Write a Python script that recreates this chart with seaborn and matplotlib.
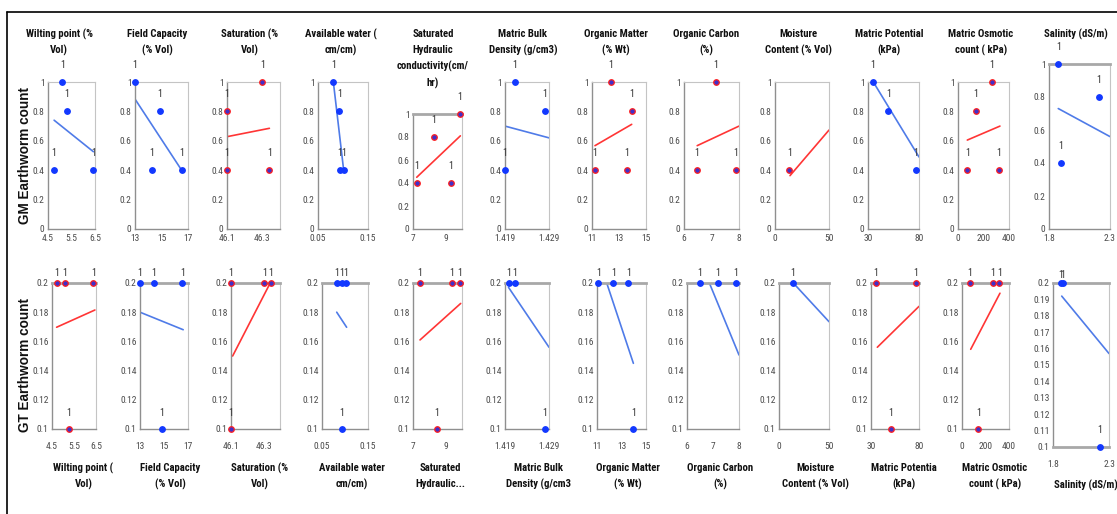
import matplotlib
matplotlib.use("Agg")
import matplotlib.pyplot as plt
import seaborn as sns
from matplotlib import font_manager
from matplotlib.font_manager import FontProperties
from matplotlib.lines import Line2D

# ---------------- data ----------------
top_titles = ["Wilting point (%\nVol)", "Field Capacity\n(% Vol)", "Saturation (%\nVol)",
              "Available water (\ncm/cm)", "Saturated\nHydraulic\nconductivity(cm/\nhr)",
              "Matric Bulk\nDensity (g/cm3)", "Organic Matter\n(% Wt)", "Organic Carbon\n(%)",
              "Moisture\nContent (% Vol)", "Matric Potential\n(kPa)", "Matric Osmotic\ncount ( kPa)",
              "Salinity (dS/m)"]
bottom_titles = ["Wilting point (\nVol)", "Field Capacity\n(% Vol)", "Saturation (%\nVol)",
                 "Available water\ncm/cm)", "Saturated\nHydraulic...", "Matric Bulk\nDensity (g/cm3",
                 "Organic Matter\n(% Wt)", "Organic Carbon\n(%)", "Moisture\nContent (% Vol)",
                 "Matric Potentia\n(kPa)", "Matric Osmotic\ncount ( kPa)", "Salinity (dS/m)"]

x_limits = [(4.5, 6.5), (13, 17), (46.1, 46.4), (0.05, 0.15), (7, 10), (1.419, 1.429),
            (11, 15), (6, 8), (0, 50), (30, 80), (0, 400), (1.8, 2.3)]
x_tick_values = [[4.5, 5.5, 6.5], [13, 15, 17], [46.1, 46.3], [0.05, 0.15], [7, 9],
                 [1.419, 1.429], [11, 13, 15], [6, 7, 8], [0, 50], [30, 80], [0, 200, 400], [1.8, 2.3]]
x_tick_labels = [["4.5", "5.5", "6.5"], ["13", "15", "17"], ["46.1", "46.3"], ["0.05", "0.15"],
                 ["7", "9"], ["1.419", "1.429"], ["11", "13", "15"], ["6", "7", "8"], ["0", "50"],
                 ["30", "80"], ["0", "200", "400"], ["1.8", "2.3"]]

gm_ylabel = "GM Earthworm count"
gt_ylabel = "GT Earthworm count"
gm_yticks = [0, 0.2, 0.4, 0.6, 0.8, 1]
gm_yticklabels = ["0", "0.2", "0.4", "0.6", "0.8", "1"]
gt_yticks = [0.1, 0.12, 0.14, 0.16, 0.18, 0.2]
gt_yticklabels = ["0.1", "0.12", "0.14", "0.16", "0.18", "0.2"]
gt_sal_yticks = [0.1, 0.11, 0.12, 0.13, 0.14, 0.15, 0.16, 0.17, 0.18, 0.19, 0.2]
gt_sal_yticklabels = ["0.1", "0.11", "0.12", "0.13", "0.14", "0.15", "0.16", "0.17", "0.18", "0.19", "0.2"]

# GM (top row) points and trendlines
gm_x = [[4.76, 5.11, 5.29, 6.43], [13.0, 14.89, 14.26, 16.52], [46.1, 46.1, 46.3, 46.34],
        [0.081, 0.093, 0.094, 0.102], [7.23, 8.29, 9.88, 9.31], [1.419, 1.4213, 1.428],
        [11.22, 12.38, 13.94, 13.57], [6.46, 7.15, 7.88], [13.2], [34.6, 49.9, 77.1],
        [73, 139, 264, 322], [1.876, 1.896, 2.21]]
gm_y = [[0.4, 1.0, 0.8, 0.4], [1.0, 0.8, 0.4, 0.4], [0.8, 0.4, 1.0, 0.4],
        [1.0, 0.8, 0.4, 0.4], [0.4, 0.8, 1.0, 0.4], [0.4, 1.0, 0.8],
        [0.4, 1.0, 0.8, 0.4], [0.4, 1.0, 0.4], [0.4], [1.0, 0.8, 0.4],
        [0.4, 0.8, 1.0, 0.4], [1.0, 0.4, 0.8]]
gm_trend_x = [[4.76, 6.43], [13.0, 16.52], [46.1, 46.34], [0.0807, 0.101], [7.23, 9.9],
              [1.419, 1.429], [11.22, 13.94], [6.48, 8.0], [13.9, 50], [35.2, 80],
              [73, 329], [1.876, 2.3]]
gm_trend_y = [[0.74, 0.526], [0.884, 0.40], [0.628, 0.685], [1.0, 0.41], [0.45, 0.81],
              [0.70, 0.62], [0.567, 0.712], [0.567, 0.70], [0.363, 0.673], [1.0, 0.49],
              [0.605, 0.70], [0.73, 0.56]]
gm_colors = ["blue", "blue", "red", "blue", "red", "blue", "red", "red", "red", "blue", "red", "blue"]

# GT (bottom row) points and trendlines
gt_x = [[4.71, 5.09, 6.38, 5.27], [13.0, 14.17, 16.53, 14.8], [46.1, 46.304, 46.345, 46.1],
        [0.082, 0.0928, 0.102, 0.0928], [7.43, 9.37, 9.88, 8.45], [1.4198, 1.4213, 1.428],
        [11.11, 12.33, 13.56, 13.97], [6.5, 7.18, 7.87], [13.7], [35.2, 76.9, 50.8],
        [68, 261, 318, 139], [1.87, 1.885, 2.22]]
gt_y = [[0.2, 0.2, 0.2, 0.1], [0.2, 0.2, 0.2, 0.1], [0.2, 0.2, 0.2, 0.1],
        [0.2, 0.2, 0.2, 0.1], [0.2, 0.2, 0.2, 0.1], [0.2, 0.2, 0.1],
        [0.2, 0.2, 0.2, 0.1], [0.2, 0.2, 0.2], [0.2], [0.2, 0.2, 0.1],
        [0.2, 0.2, 0.2, 0.1], [0.2, 0.2, 0.1]]
gt_trend_x = [[4.71, 6.45], [13.0, 16.6], [46.11, 46.34], [0.082, 0.1035], [7.43, 9.92],
              [1.4198, 1.429], [11.2, 13.97], [6.86, 8.0], [14.3, 50], [36.6, 80],
              [74, 323], [1.878, 2.3]]
gt_trend_y = [[0.1697, 0.1815], [0.18, 0.168], [0.15, 0.2], [0.18, 0.1697], [0.161, 0.186],
              [0.197, 0.156], [0.215, 0.145], [0.2, 0.1507], [0.2, 0.1735], [0.156, 0.184],
              [0.1546, 0.193], [0.192, 0.157]]
gt_colors = ["red", "blue", "red", "blue", "red", "blue", "blue", "blue", "blue", "red", "red", "blue"]

# ---------------- style ----------------
sns.set_style("white")
plt.rcParams["font.family"] = ["Liberation Sans", "DejaVu Sans"]


def find_font(candidates):
    files = [f.fname for f in font_manager.fontManager.ttflist]
    for key in candidates:
        for fn in files:
            if fn.split("/")[-1].lower() == key.lower():
                return FontProperties(fname=fn)
    return None


title_fp = find_font(["LiberationSansNarrow-Bold.ttf", "RobotoCondensed-Bold.ttf",
                      "OpenSans_Condensed-Bold.ttf", "OpenSansCondensed-Bold.ttf",
                      "DejaVuSansCondensed-Bold.ttf"]) or FontProperties(family="Liberation Sans", weight="bold")
tick_fp = find_font(["LiberationSansNarrow-Regular.ttf", "RobotoCondensed-Regular.ttf",
                     "OpenSans_Condensed-Regular.ttf", "OpenSansCondensed-Regular.ttf",
                     "DejaVuSansCondensed.ttf"]) or FontProperties(family="Liberation Sans")

W, H = 1117, 514
fig = plt.figure(figsize=(W / 100, H / 100), dpi=100)
fig.patch.set_facecolor("white")
renderer = fig.canvas.get_renderer()


def fit_size(fp, sample, target_px, cap):
    p = fp.copy()
    p.set_size(10)
    t = fig.text(0, 0, sample, fontproperties=p)
    w = t.get_window_extent(renderer=renderer).width
    t.remove()
    return min(cap, 10 * target_px / w)


TITLE_SIZE = fit_size(title_fp, "Wilting point (%", 68, 9.0)
TICK_SIZE = 6.8
title_fp.set_size(TITLE_SIZE)
tick_fp.set_size(TICK_SIZE)
label_fp = tick_fp.copy()
label_fp.set_size(7.2)

LINE_COL = {"blue": "#4f7be8", "red": "#ff3535"}
FACE_COL = {"blue": "#1238ff", "red": "#4030c8"}
EDGE_COL = {"blue": "#1238ff", "red": "#ff2020"}

top_boxes = [(48, 95), (135, 188), (227, 280), (318, 368), (413, 462), (505, 549), (592, 646),
             (684, 739), (775, 829), (868, 919), (958, 1009), (1049, 1110)]
bot_boxes = [(52, 96), (140, 188), (231, 280), (322, 368), (413, 462), (505, 549), (597, 646),
             (687, 739), (779, 829), (871, 919), (962, 1009), (1053, 1109)]
top_title_cx = [59, 157.5, 249.5, 340.5, 433, 523, 615.5, 706, 798, 889, 981, 1076]
bot_title_cx = [83.5, 170.5, 260, 352, 440, 538, 627.5, 720, 815, 904, 995, 1085.5]


def px_axes(l, r, t, b):
    return fig.add_axes([l / W, 1 - b / H, (r - l) / W, (b - t) / H])


def style_axes(ax, thick_top, thick_bottom, xpad):
    for s in ("left", "bottom"):
        ax.spines[s].set_color("#8f8f8f")
        ax.spines[s].set_linewidth(1.0)
    for s in ("top", "right"):
        ax.spines[s].set_color("#c4c4c4")
        ax.spines[s].set_linewidth(0.8)
    if thick_top:
        ax.spines["top"].set_color("#a8a8a8")
        ax.spines["top"].set_linewidth(2.0)
    if thick_bottom:
        ax.spines["bottom"].set_color("#a8a8a8")
        ax.spines["bottom"].set_linewidth(2.0)
    ax.tick_params(axis="both", direction="inout", length=4.5, width=0.8, color="#8f8f8f",
                   labelcolor="#4a4a4a")
    ax.tick_params(axis="y", pad=0.2)
    ax.tick_params(axis="x", pad=xpad)
    for lab in ax.get_xticklabels() + ax.get_yticklabels():
        lab.set_fontproperties(tick_fp)
    ax.set_facecolor("white")


def draw_panel(ax, xs, ys, tx, ty, col, label_off):
    sns.lineplot(x=tx, y=ty, ax=ax, color=LINE_COL[col], linewidth=1.2, zorder=2)
    sns.scatterplot(x=xs, y=ys, ax=ax, s=16, color=FACE_COL[col], edgecolor=EDGE_COL[col],
                    linewidth=0.9, zorder=4, clip_on=False)
    for xv, yv in zip(xs, ys):
        ax.annotate("1", xy=(xv, yv), xytext=(0, label_off(yv)), textcoords="offset points",
                    ha="center", va="center", fontproperties=label_fp, color="#333333",
                    annotation_clip=False)
    ax.set_xlabel("")
    ax.set_ylabel("")


def put_title(cx, y_first, text, pitch=16.3):
    for k, line in enumerate(text.split("\n")):
        fig.text(cx / W, 1 - (y_first + k * pitch) / H, line, ha="center", va="center",
                 fontproperties=title_fp, color="#111111")


# ---------------- top row (GM) ----------------
for i in range(12):
    l, r = top_boxes[i]
    t = 82
    if i == 4:
        t = 114
    if i == 11:
        t = 64
    ax = px_axes(l, r, t, 229)
    draw_panel(ax, gm_x[i], gm_y[i], gm_trend_x[i], gm_trend_y[i], gm_colors[i],
               lambda yv: 12.2)
    ax.set_xlim(*x_limits[i])
    ax.set_ylim(0, 1)
    ax.set_xticks(x_tick_values[i])
    ax.set_xticklabels(x_tick_labels[i])
    ax.set_yticks(gm_yticks)
    ax.set_yticklabels(gm_yticklabels)
    style_axes(ax, thick_top=(i in (4, 11)), thick_bottom=False, xpad=1.5)
    put_title(top_title_cx[i], 34, top_titles[i])

# ---------------- bottom row (GT) ----------------
for i in range(12):
    l, r = bot_boxes[i]
    b = 447 if i == 11 else 429
    ax = px_axes(l, r, 283, b)
    if i == 11:
        off = lambda yv: 5.8 if yv >= 0.2 else 12.2
    else:
        off = lambda yv: 7.2 if yv >= 0.2 else 11.5
    draw_panel(ax, gt_x[i], gt_y[i], gt_trend_x[i], gt_trend_y[i], gt_colors[i], off)
    ax.set_xlim(*x_limits[i])
    ax.set_ylim(0.1, 0.2)
    ax.set_xticks(x_tick_values[i])
    ax.set_xticklabels(x_tick_labels[i])
    if i == 11:
        ax.set_yticks(gt_sal_yticks)
        ax.set_yticklabels(gt_sal_yticklabels)
    else:
        ax.set_yticks(gt_yticks)
        ax.set_yticklabels(gt_yticklabels)
    style_axes(ax, thick_top=True, thick_bottom=(i == 11), xpad=7.0)
    put_title(bot_title_cx[i], 485 if i == 11 else 468, bottom_titles[i], pitch=16)

# ---------------- row labels ----------------
fig.text(25 / W, 1 - 156 / H, gm_ylabel, rotation=90, ha="center", va="center",
         fontsize=9.8, fontweight="bold", color="#111111")
fig.text(25 / W, 1 - 365 / H, gt_ylabel, rotation=90, ha="center", va="center",
         fontsize=9.8, fontweight="bold", color="#111111")

# outer frame (left and top edges visible)
fig.add_artist(Line2D([7 / W, 7 / W], [1 - 12 / H, 0], color="black", linewidth=1.2,
                      transform=fig.transFigure))
fig.add_artist(Line2D([7 / W, 1], [1 - 12 / H, 1 - 12 / H], color="black", linewidth=1.2,
                      transform=fig.transFigure))

fig.savefig("out.png", dpi=100, facecolor="white")
